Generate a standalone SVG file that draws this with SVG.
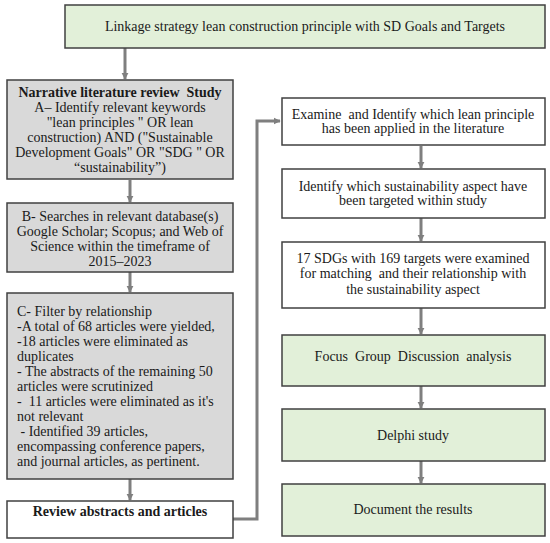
<svg xmlns="http://www.w3.org/2000/svg" width="550" height="543" viewBox="0 0 550 543">
<defs>
<style>
.t{font-family:"Liberation Serif","Times New Roman",serif;font-size:14px;fill:#1a1a1a}
.c{text-anchor:middle}
.b{font-weight:bold}
.green{fill:#e2f0d9;stroke:#404040;stroke-width:1.5}
.grey{fill:#d9d9d9;stroke:#404040;stroke-width:1.5}
.white{fill:#ffffff;stroke:#404040;stroke-width:1.5}
.conn{fill:none;stroke:#7f7f7f;stroke-width:3}
</style>
<marker id="ah" viewBox="0 0 10 10" refX="9" refY="5" markerWidth="2.4" markerHeight="2.4" orient="auto" markerUnits="strokeWidth">
<path d="M0,0 L10,5 L0,10 z" fill="#7f7f7f"/>
</marker>
</defs>
<rect width="550" height="543" fill="#ffffff"/>

<g id="connectors">
<path class="conn" d="M125,48 V79" marker-end="url(#ah)"/>
<path class="conn" d="M130,180 V202" marker-end="url(#ah)"/>
<path class="conn" d="M130,272 V292" marker-end="url(#ah)"/>
<path class="conn" d="M130,479 V500" marker-end="url(#ah)"/>
<path class="conn" d="M233,519 H257 V121 H280" marker-end="url(#ah)"/>
<path class="conn" d="M421,146 V168" marker-end="url(#ah)"/>
<path class="conn" d="M421,218 V241" marker-end="url(#ah)"/>
<path class="conn" d="M421,308 V334" marker-end="url(#ah)"/>
<path class="conn" d="M421,386 V408" marker-end="url(#ah)"/>
<path class="conn" d="M421,461 V483" marker-end="url(#ah)"/>
</g>

<g id="n-top">
<rect class="green" x="65" y="5" width="480" height="43"/>
<text class="t c" x="305" y="31">Linkage strategy lean construction principle with SD Goals and Targets</text>
</g>

<g id="n-a">
<rect class="grey" x="7" y="80" width="226" height="99"/>
<text class="t c b" x="120" y="97" xml:space="preserve">Narrative literature review  Study</text>
<text class="t c" x="120" y="112">A– Identify relevant keywords</text>
<text class="t c" x="120" y="127">"lean principles " OR lean</text>
<text class="t c" x="120" y="142">construction) AND ("Sustainable</text>
<text class="t c" x="120" y="157">Development Goals" OR "SDG " OR</text>
<text class="t c" x="120" y="172">“sustainability”)</text>
</g>

<g id="n-b">
<rect class="grey" x="7" y="203" width="226" height="69"/>
<text class="t c" x="120" y="221">B- Searches in relevant database(s)</text>
<text class="t c" x="120" y="236">Google Scholar; Scopus; and Web of</text>
<text class="t c" x="120" y="251">Science within the timeframe of</text>
<text class="t c" x="120" y="266">2015–2023</text>
</g>

<g id="n-c">
<rect class="grey" x="7" y="293" width="226" height="186"/>
<text class="t" x="17" y="316">C- Filter by relationship</text>
<text class="t" x="17" y="331">-A total of 68 articles were yielded,</text>
<text class="t" x="17" y="346">-18 articles were eliminated as</text>
<text class="t" x="17" y="361">duplicates</text>
<text class="t" x="17" y="376">- The abstracts of the remaining 50</text>
<text class="t" x="17" y="391">articles were scrutinized</text>
<text class="t" x="17" y="406" xml:space="preserve">-  11 articles were eliminated as it's</text>
<text class="t" x="17" y="421">not relevant</text>
<text class="t" x="17" y="436" xml:space="preserve"> - Identified 39 articles,</text>
<text class="t" x="17" y="451">encompassing conference papers,</text>
<text class="t" x="17" y="466">and journal articles, as pertinent.</text>
</g>

<g id="n-review">
<rect class="white" x="7" y="501" width="226" height="37"/>
<text class="t c b" x="120" y="516">Review abstracts and articles</text>
</g>

<g id="n-examine">
<rect class="white" x="282" y="98" width="263" height="47"/>
<text class="t c" x="413" y="119" xml:space="preserve">Examine  and Identify which lean principle</text>
<text class="t c" x="413" y="133">has been applied in the literature</text>
</g>

<g id="n-identify">
<rect class="white" x="282" y="169" width="263" height="49"/>
<text class="t c" x="413" y="191">Identify which sustainability aspect have</text>
<text class="t c" x="413" y="205">been targeted within study</text>
</g>

<g id="n-sdg">
<rect class="white" x="282" y="242" width="263" height="66"/>
<text class="t c" x="413" y="263">17 SDGs with 169 targets were examined</text>
<text class="t c" x="413" y="278" xml:space="preserve">for matching  and their relationship with</text>
<text class="t c" x="413" y="294">the sustainability aspect</text>
</g>

<g id="n-focus">
<rect class="green" x="282" y="335" width="263" height="51"/>
<text class="t c" x="413" y="361" xml:space="preserve">Focus  Group  Discussion  analysis</text>
</g>

<g id="n-delphi">
<rect class="green" x="282" y="409" width="263" height="52"/>
<text class="t c" x="413" y="440">Delphi study</text>
</g>

<g id="n-document">
<rect class="green" x="282" y="484" width="263" height="52"/>
<text class="t c" x="413" y="514">Document the results</text>
</g>
</svg>
